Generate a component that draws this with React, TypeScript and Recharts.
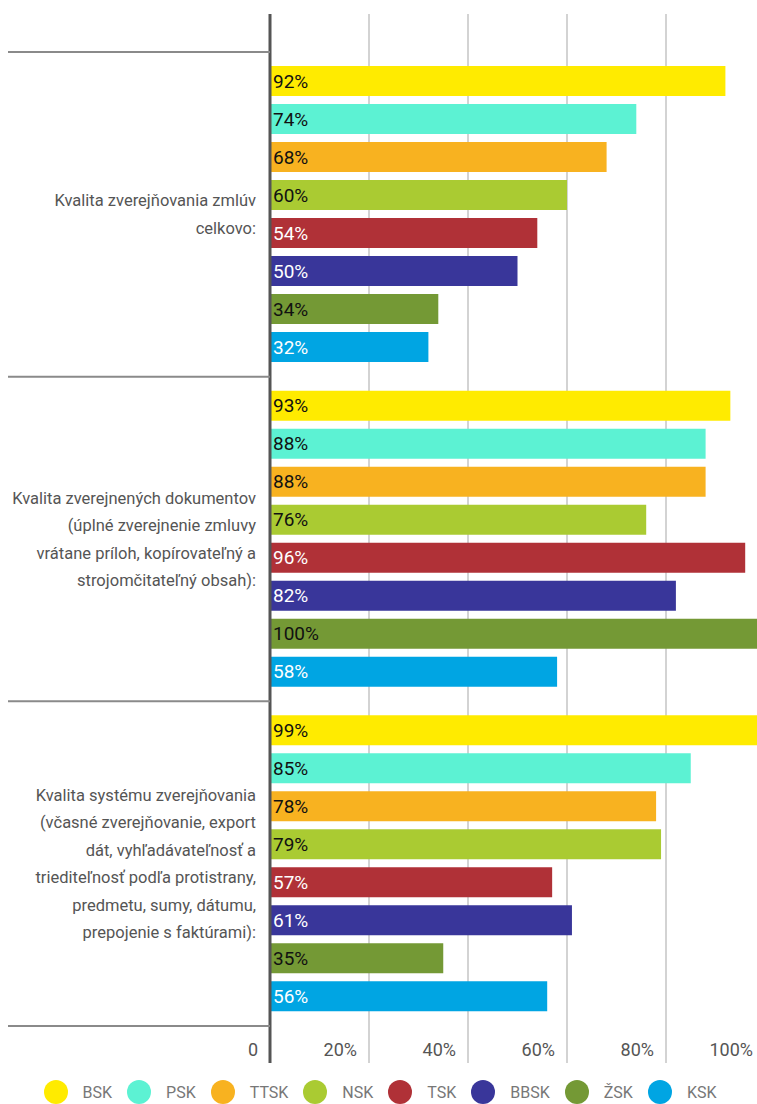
import React from "react";
import {
	BarChart,
	Bar,
	XAxis,
	YAxis,
	CartesianGrid,
	Legend,
	LabelList,
} from "recharts";

const FONT = "Roboto, 'DejaVu Sans', sans-serif";

const categories = [
	["Kvalita zverejňovania zmlúv", "celkovo:"],
	[
		"Kvalita zverejnených dokumentov",
		"(úplné zverejnenie zmluvy",
		"vrátane príloh, kopírovateľný a",
		"strojomčitateľný obsah):",
	],
	[
		"Kvalita systému zverejňovania",
		"(včasné zverejňovanie, export",
		"dát, vyhľadávateľnosť a",
		"trieditеľnosť podľa protistrany,".replace("е", "e"),
		"predmetu, sumy, dátumu,",
		"prepojenie s faktúrami):",
	],
];

const seriesNames = ["BSK", "PSK", "TTSK", "NSK", "TSK", "BBSK", "ŽSK", "KSK"];
const BSK = [92, 93, 99];
const PSK = [74, 88, 85];
const TTSK = [68, 88, 78];
const NSK = [60, 76, 79];
const TSK = [54, 96, 57];
const BBSK = [50, 82, 61];
const ZSK = [34, 100, 35];
const KSK = [32, 58, 56];

const seriesValues = [BSK, PSK, TTSK, NSK, TSK, BBSK, ZSK, KSK];
const colors = [
	"#FFEB00",
	"#5CF2D3",
	"#F8B220",
	"#AACB32",
	"#B03137",
	"#39369A",
	"#749935",
	"#00A5E3",
];
const labelColors = [
	"#111",
	"#111",
	"#111",
	"#111",
	"#fff",
	"#fff",
	"#111",
	"#fff",
];
const xTicks = [0, 20, 40, 60, 80, 100];

const data = categories.map((lines, i) => {
	const row: { [key: string]: any } = { name: lines.join(" "), lines };
	seriesNames.forEach((s, j) => {
		row[s] = seriesValues[j][i];
	});
	return row;
});

const CHART_W = 765;
const CHART_H = 1104;
const TOP = 14;
const PLOT_BOTTOM = 1063;
const PAD_TOP = 38;
const PAD_BOTTOM = 37;
const BAND = (PLOT_BOTTOM - TOP - PAD_TOP - PAD_BOTTOM) / categories.length;

const YTick = (props: any) => {
	const { y, index } = props;
	const lines = categories[index] || [];
	const lh = 27.5;
	const start = y - ((lines.length - 1) * lh) / 2;
	return (
		<g>
			<line x1={8} x2={270} y1={y - BAND / 2} y2={y - BAND / 2} stroke="#8a8a8a" strokeWidth={2} />
			{index === categories.length - 1 ? (
				<line x1={8} x2={270} y1={y + BAND / 2} y2={y + BAND / 2} stroke="#8a8a8a" strokeWidth={2} />
			) : null}
			<text
				x={256}
				y={start}
				textAnchor="end"
				fill="#555"
				fontSize={16.5}
				fontFamily={FONT}
			>
				{lines.map((l, k) => (
					<tspan key={k} x={256} y={start + k * lh} dy="0.35em">
						{l}
					</tspan>
				))}
			</text>
		</g>
	);
};

const XTick = (props: any) => {
	const { x, payload } = props;
	const v = payload.value;
	return (
		<text
			x={x - 12}
			y={PLOT_BOTTOM - 7}
			textAnchor="end"
			fill="#555"
			fontSize={18}
			fontFamily={FONT}
		>
			{v === 0 ? "0" : `${v}%`}
		</text>
	);
};

const LegendContent = () => (
	<div
		style={{
			display: "flex",
			justifyContent: "center",
			alignItems: "center",
			height: 24,
			paddingLeft: 10,
			fontFamily: FONT,
			fontSize: 16,
			color: "#777",
		}}
	>
		{seriesNames.map((s, i) => (
			<div key={s} style={{ display: "flex", alignItems: "center", marginRight: 15 }}>
				<span
					style={{
						width: 24,
						height: 24,
						borderRadius: 12,
						background: colors[i],
						display: "inline-block",
						marginRight: 15,
					}}
				/>
				<span>{s}</span>
			</div>
		))}
	</div>
);

export default function App() {
	return (
		<div
			style={{
				position: "absolute",
				left: 0,
				top: 0,
				width: 757,
				height: CHART_H,
				overflow: "hidden",
				background: "#fff",
			}}
		>
			<BarChart
				width={CHART_W}
				height={CHART_H}
				data={data}
				layout="vertical"
				margin={{ top: TOP, right: 0, left: 0, bottom: 0 }}
				barGap={8}
			>
				<CartesianGrid horizontal={false} stroke="#c4c4c4" strokeWidth={1.5} />
				<XAxis
					type="number"
					domain={[0, 100]}
					ticks={xTicks}
					axisLine={false}
					tickLine={false}
					tickSize={0}
					height={17}
					tick={<XTick />}
					interval={0}
				/>
				<YAxis
					type="category"
					dataKey="name"
					width={270}
					padding={{ top: PAD_TOP, bottom: PAD_BOTTOM }}
					axisLine={{ stroke: "#555", strokeWidth: 3 }}
					tickLine={false}
					tick={<YTick />}
					interval={0}
				/>
				<Legend verticalAlign="bottom" content={<LegendContent />} />
				{seriesNames.map((s, i) => (
					<Bar
						key={s}
						dataKey={s}
						fill={colors[i]}
						barSize={30}
						isAnimationActive={false}
					>
						<LabelList
							dataKey={s}
							position="insideLeft"
							offset={3}
							formatter={(v: any) => `${v}%`}
							fill={labelColors[i]}
							fontSize={19}
							fontFamily={FONT}
						/>
					</Bar>
				))}
			</BarChart>
		</div>
	);
}
